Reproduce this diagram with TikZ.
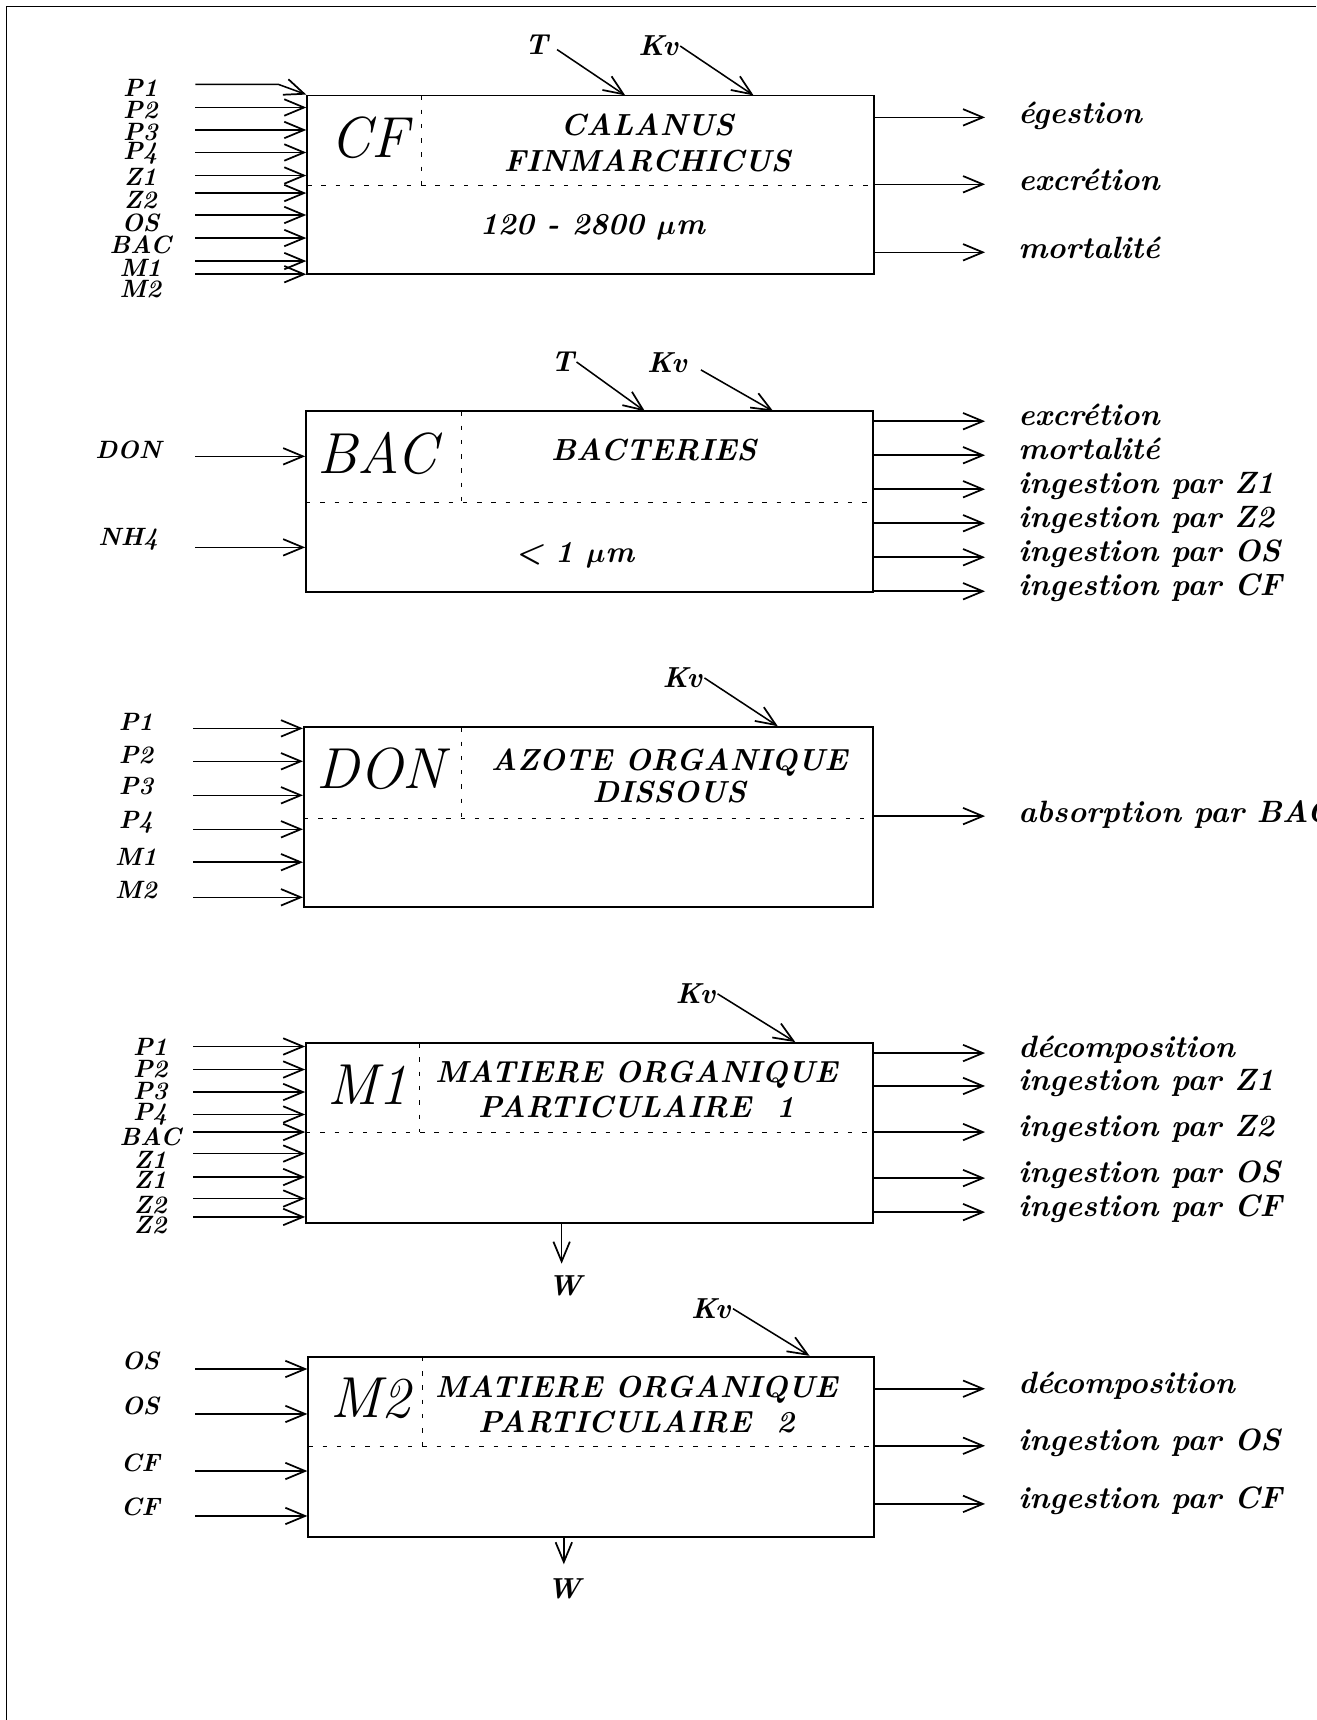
\documentclass[tikz,border=0pt]{standalone}
\usetikzlibrary{arrows.meta,fit}
\begin{document}
\begin{tikzpicture}[x=0.2mm,y=-0.2mm,
  flow/.style={-{Straight Barb[length=3.6mm,width=3mm,line width=0.9pt]},line width=0.8pt},
  cbox/.style={draw,line width=0.9pt,inner sep=0pt},
  divider/.style={line width=0.5pt,dash pattern=on 0.8mm off 1.8mm},
  inlab/.style={font=\bfseries\itshape\fontsize{13}{13}\selectfont,inner sep=0pt},
  outlab/.style={font=\bfseries\itshape\fontsize{16}{16}\selectfont,anchor=base west,inner sep=0pt},
  boxtitle/.style={font=\bfseries\itshape\fontsize{15.8}{18}\selectfont,align=center,inner sep=0pt},
  abbrev/.style={font=\itshape\fontsize{30}{30}\selectfont,inner sep=0pt},
  param/.style={font=\bfseries\itshape\fontsize{15}{15}\selectfont,inner sep=1pt}]
  \useasboundingbox (0,0) rectangle (1200,1568);
  \draw[line width=0.8pt] (6,1568) -- (6,6) -- (1200,6);

  % A compartment: name, left, top, right, bottom, dashed row, dashed column.
  \newcommand{\compart}[7]{%
    \node[cbox,fit={(#2,#3) (#4,#5)}] (#1) {};
    \draw[divider] (#2,#6) -- (#4,#6);
    \draw[divider] (#7,#3) -- (#7,#6);
  }

  % CF: Calanus finmarchicus
  \compart{cf}{280}{87}{797}{250}{169}{384}
  \node[abbrev] (cf-code) at (337,126) {CF};
  \node[boxtitle] (cf-title) at (590,130) {CALANUS\\[0.5pt]FINMARCHICUS};
  \node[boxtitle] (cf-size) at (540,207) {120 - 2800 {\boldmath$\mu$}m};
  \foreach \y/\txt in {80/P1,100/P2,120/P3,140/P4,161/Z1,182/Z2,203/OS,223/BAC,244/M1,264/M2}
    \node[inlab] (cf-\txt) at (128,\y) {\txt};
  \coordinate (cf-i0) at (178,77);
  \draw[flow] (cf-i0) -- (254,77) -- (cf.north west);
  \foreach \y [count=\i] in {98,118.5,139,160,176,196,217,238,250} {
    \coordinate (cf-i\i) at (178,\y);
    \draw[flow] (cf-i\i) -- (cf-i\i -| cf.west);
  }
  \node[param] (cf-T) at (489,41) {T};
  \node[param] (cf-Kv) at (600,42) {Kv};
  \coordinate (cf-Tin) at (570,87);
  \coordinate (cf-Kvin) at (687,87);
  \draw[flow,shorten <=1.5mm] (cf-T.east) -- (cf-Tin);
  \draw[flow] (cf-Kv.east) -- (cf-Kvin);
  \foreach \y/\txt [count=\i] in {107/égestion,168/excrétion,230/mortalité} {
    \coordinate (cf-o\i) at (898,\y);
    \draw[flow] (cf-o\i -| cf.east) -- (cf-o\i);
    \node[outlab] (cf-l\i) at (928,{\y+6}) {\txt};
  }

  % BAC: bacteries
  \compart{bac}{279}{375}{796}{540}{458}{421}
  \node[abbrev] (bac-code) at (344,413) {BAC};
  \node[boxtitle] (bac-title) at (596,410) {BACTERIES};
  \node[boxtitle] (bac-size) at (524,506) {< 1 {\boldmath$\mu$}m};
  \foreach \ly/\ay/\txt in {410/416/DON,492/499/NH4} {
    \node[inlab] (bac-\txt) at (117,\ly) {\txt};
    \coordinate (bac-i\txt) at (178,\ay);
    \draw[flow] (bac-i\txt) -- (bac-i\txt -| bac.west);
  }
  \node[param] (bac-T) at (513,330) {T};
  \node[param] (bac-Kv) at (608,331) {Kv};
  \coordinate (bac-Tin) at (588,375);
  \coordinate (bac-Kvin) at (705,375);
  \draw[flow] (bac-T.east) -- (bac-Tin);
  \draw[flow,shorten <=2.5mm] (bac-Kv.east) -- (bac-Kvin);
  \foreach \y/\txt [count=\i] in {384/excrétion,415/mortalité,446/ingestion par Z1,477/ingestion par Z2,508/ingestion par OS,539/ingestion par CF} {
    \coordinate (bac-o\i) at (898,\y);
    \draw[flow] (bac-o\i -| bac.east) -- (bac-o\i);
    \node[outlab] (bac-l\i) at (928,{\y+4}) {\txt};
  }

  % DON: azote organique dissous
  \compart{don}{277}{663}{796}{827}{746}{421}
  \node[abbrev] (don-code) at (347,701) {DON};
  \node[boxtitle] (don-title) at (610,707) {AZOTE ORGANIQUE\\[-1.5pt]DISSOUS};
  \foreach \ly/\ay/\txt in {658/664/P1,688/694/P2,717/725/P3,750/756/P4,781/786/M1,811/818/M2} {
    \node[inlab] (don-\txt) at (124,\ly) {\txt};
    \coordinate (don-i\txt) at (176,\ay);
    \draw[flow] (don-i\txt) -- (don-i\txt -| don.west);
  }
  \node[param] (don-Kv) at (622,618) {Kv};
  \coordinate (don-Kvin) at (709,662);
  \draw[flow] (don-Kv.east) -- (don-Kvin);
  \coordinate (don-o1) at (898,744);
  \draw[flow] (don-o1 -| don.east) -- (don-o1);
  \node[outlab] (don-l1) at (928,750) {absorption par BAC};

  % M1: matiere organique particulaire 1
  \compart{m1}{279}{951}{796}{1115}{1032}{382}
  \node[abbrev] (m1-code) at (335,989) {M1};
  \node[boxtitle] (m1-title) at (580,993) {MATIERE ORGANIQUE\\PARTICULAIRE~~1};
  \foreach \ly/\ay/\txt [count=\i] in {954.5/954/P1,975/975/P2,995/995.5/P3,1016/1016/P4,1036.5/1032/BAC,1057/1051.6/Z1,1076/1073/Z1,1099/1092.6/Z2,1117/1109.4/Z2} {
    \node[inlab] (m1-n\i) at (137,\ly) {\txt};
    \coordinate (m1-i\i) at (176,\ay);
    \draw[flow] (m1-i\i) -- (m1-i\i -| m1.west);
  }
  \node[param] (m1-Kv) at (634,906) {Kv};
  \coordinate (m1-Kvin) at (725,950);
  \draw[flow] (m1-Kv.east) -- (m1-Kvin);
  \foreach \y/\txt [count=\i] in {960/décomposition,990/ingestion par Z1,1032/ingestion par Z2,1074/ingestion par OS,1105/ingestion par CF} {
    \coordinate (m1-o\i) at (898,\y);
    \draw[flow] (m1-o\i -| m1.east) -- (m1-o\i);
    \node[outlab] (m1-l\i) at (928,{\y+4}) {\txt};
  }
  \coordinate (m1-sink) at (512,1152);
  \node[param] (m1-W) at (515,1172) {W};
  \draw[flow] (m1-sink |- m1.south) -- (m1-sink);

  % M2: matiere organique particulaire 2
  \compart{m2}{281}{1237}{797}{1401}{1319}{385}
  \node[abbrev] (m2-code) at (338,1275) {M2};
  \node[boxtitle] (m2-title) at (580,1280) {MATIERE ORGANIQUE\\PARTICULAIRE~~2};
  \foreach \ly/\ay/\txt [count=\i] in {1241/1248/OS,1282/1289/OS,1334/1341/CF,1374/1382/CF} {
    \node[inlab] (m2-n\i) at (128,\ly) {\txt};
    \coordinate (m2-i\i) at (178,\ay);
    \draw[flow] (m2-i\i) -- (m2-i\i -| m2.west);
  }
  \node[param] (m2-Kv) at (648,1193) {Kv};
  \coordinate (m2-Kvin) at (738,1236);
  \draw[flow] (m2-Kv.east) -- (m2-Kvin);
  \foreach \y/\txt [count=\i] in {1266/décomposition,1318/ingestion par OS,1371/ingestion par CF} {
    \coordinate (m2-o\i) at (898,\y);
    \draw[flow] (m2-o\i -| m2.east) -- (m2-o\i);
    \node[outlab] (m2-l\i) at (928,{\y+4}) {\txt};
  }
  \coordinate (m2-sink) at (514,1426);
  \node[param] (m2-W) at (514,1448) {W};
  \draw[flow] (m2-sink |- m2.south) -- (m2-sink);
\end{tikzpicture}
\end{document}
